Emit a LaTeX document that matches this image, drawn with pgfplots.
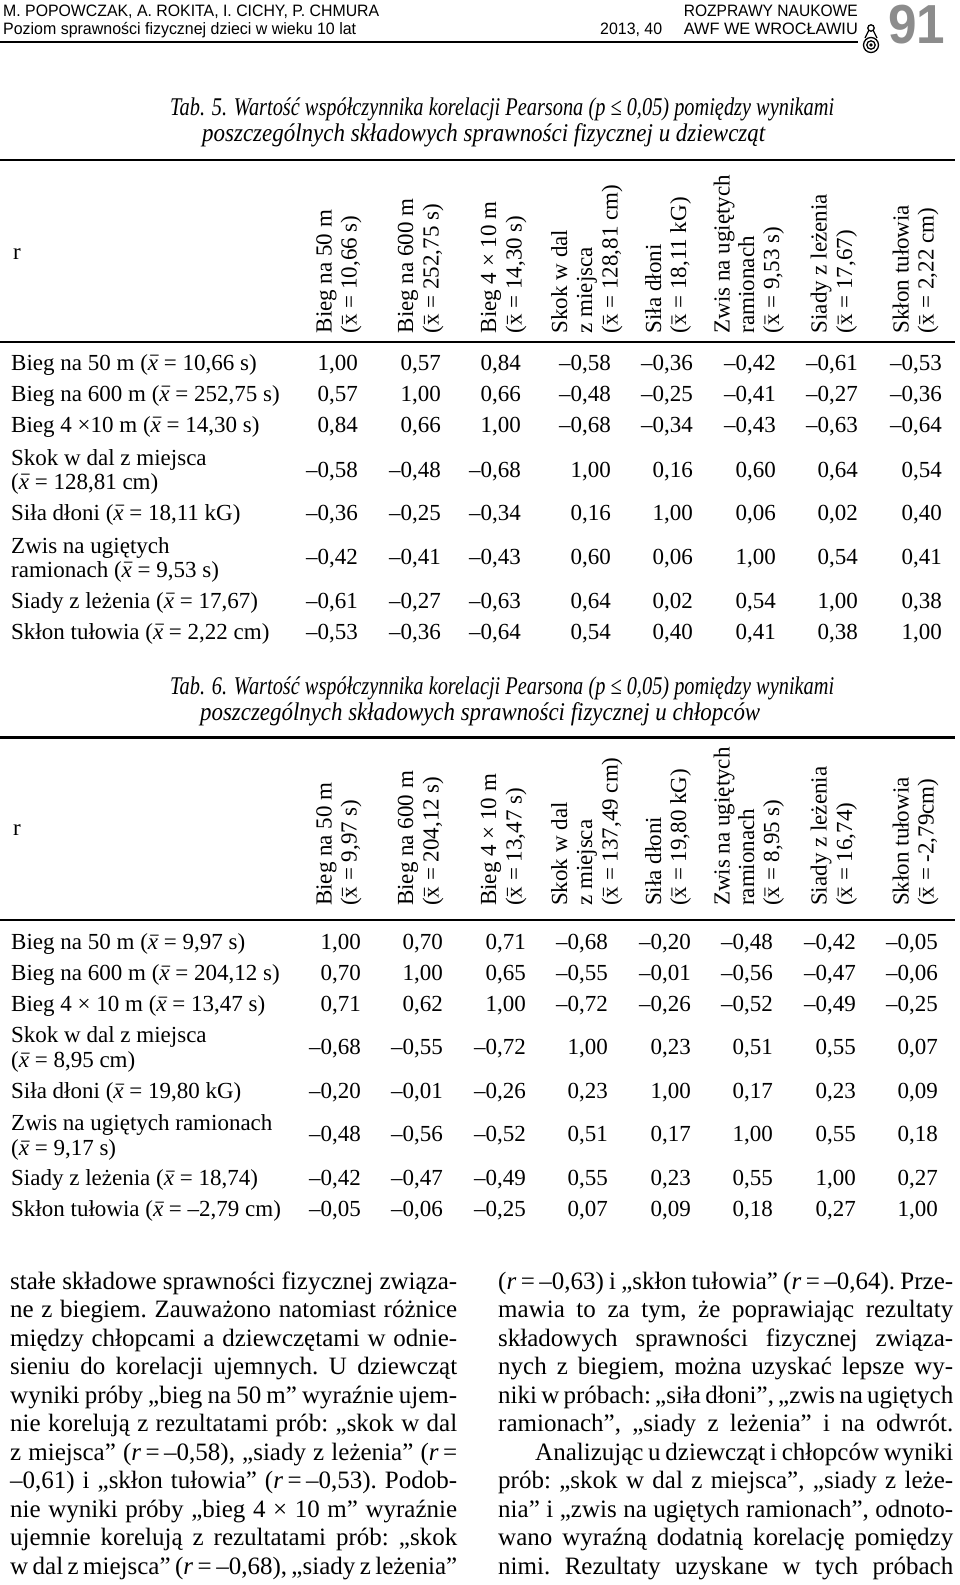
\documentclass[border=0pt]{standalone}
\usepackage{fontspec}
\setmainfont{Liberation Serif}
\newfontfamily\hsans{Liberation Sans}
\usepackage{graphicx}
\usepackage{pgfplots}
\usepackage{pgfplotstable}
\pgfplotsset{compat=1.18}

\definecolor{numgray}{HTML}{8C8C8C}
\newcommand\tabfont{\fontsize{23}{25}\selectfont}
\newcommand\hdfont{\fontsize{23}{25}\selectfont}
\newcommand\bodyfont{\fontsize{25}{28}\selectfont\frenchspacing}
\newcommand\capfont{\fontsize{25.5}{26}\selectfont\itshape}
\newcommand\mac{\raisebox{-0.13em}{\scalebox{0.72}[1]{\char"AF}}}
\newcommand\xb{\ooalign{\textit{x}\cr\hidewidth\kern0.14em\mac\hidewidth\cr}}
\newcommand\xu{\ooalign{x\cr\hidewidth\mac\hidewidth\cr}}
\newcommand\eq{\kern0.18em=\kern0.18em}

\newcommand\rl[2]{\node[anchor=base west, inner sep=0pt, font=\tabfont] at (axis cs:11,#1) {#2};}
\newcommand\hd[3]{\node[rotate=90, anchor=base west, inner sep=0pt, font=\hdfont] at (axis cs:#1,#2) {#3};}
\newcommand\cp[4]{\node[anchor=base west, inner sep=0pt, font=\capfont] at (axis cs:#1,#2) {\resizebox{#3pt}{\height}{#4}};}
\newcommand\jl[4]{\node[anchor=base west, inner sep=0pt, font=\bodyfont] at (axis cs:#1,#2) {\makebox[#3pt][s]{#4}};}

% Tab. 5 (girls): baseline y, then correlation values
\pgfplotstableread{
y c1 c2 c3 c4 c5 c6 c7 c8
370 1.00 0.57 0.84 -0.58 -0.36 -0.42 -0.61 -0.53
401 0.57 1.00 0.66 -0.48 -0.25 -0.41 -0.27 -0.36
432 0.84 0.66 1.00 -0.68 -0.34 -0.43 -0.63 -0.64
477 -0.58 -0.48 -0.68 1.00 0.16 0.60 0.64 0.54
520 -0.36 -0.25 -0.34 0.16 1.00 0.06 0.02 0.40
564 -0.42 -0.41 -0.43 0.60 0.06 1.00 0.54 0.41
608 -0.61 -0.27 -0.63 0.64 0.02 0.54 1.00 0.38
639 -0.53 -0.36 -0.64 0.54 0.40 0.41 0.38 1.00
}\tabfive

% Tab. 6 (boys)
\pgfplotstableread{
y c1 c2 c3 c4 c5 c6 c7 c8
949 1.00 0.70 0.71 -0.68 -0.20 -0.48 -0.42 -0.05
980 0.70 1.00 0.65 -0.55 -0.01 -0.56 -0.47 -0.06
1011 0.71 0.62 1.00 -0.72 -0.26 -0.52 -0.49 -0.25
1054 -0.68 -0.55 -0.72 1.00 0.23 0.51 0.55 0.07
1098 -0.20 -0.01 -0.26 0.23 1.00 0.17 0.23 0.09
1141 -0.48 -0.56 -0.52 0.51 0.17 1.00 0.55 0.18
1185 -0.42 -0.47 -0.49 0.55 0.23 0.55 1.00 0.27
1216 -0.05 -0.06 -0.25 0.07 0.09 0.18 0.27 1.00
}\tabsix

\pgfplotsset{cell/.style={draw=none, mark=none, point meta=y,
  visualization depends on={abs(\thisrow{#1}) \as \cabs},
  visualization depends on={(\thisrow{#1}<0) \as \cneg},
  nodes near coords={\ifdim0\cneg pt>0.5pt\textendash\fi\pgfmathprintnumber[fixed,fixed zerofill,precision=2,use comma,assume math mode=true]{0\cabs}},
  every node near coord/.append style={anchor=base east, inner sep=0pt, font=\tabfont}}}

\begin{document}
\begin{tikzpicture}
\useasboundingbox (0,0) rectangle (960pt,1585pt);
\begin{axis}[at={(0,0)}, anchor=south west, width=960pt, height=1585pt,
  scale only axis, xmin=0, xmax=960, ymin=0, ymax=1585, y dir=reverse,
  hide axis, clip=false]

% ---------- page header ----------
\node[anchor=base west, inner sep=0pt, font=\hsans\fontsize{16.5}{18}\selectfont] at (axis cs:3,16) {\resizebox{376pt}{\height}{M. POPOWCZAK, A. ROKITA, I. CICHY, P. CHMURA}};
\node[anchor=base west, inner sep=0pt, font=\hsans\fontsize{16.5}{18}\selectfont] at (axis cs:3,34) {\resizebox{353pt}{\height}{Poziom sprawności fizycznej dzieci w wieku 10 lat}};
\node[anchor=base west, inner sep=0pt, font=\hsans\fontsize{16.5}{18}\selectfont] at (axis cs:600,34) {\resizebox{62pt}{\height}{2013, 40}};
\node[anchor=base east, inner sep=0pt, font=\hsans\fontsize{16.5}{18}\selectfont] at (axis cs:858,16) {\resizebox{174pt}{\height}{ROZPRAWY NAUKOWE}};
\node[anchor=base east, inner sep=0pt, font=\hsans\fontsize{16.5}{18}\selectfont] at (axis cs:858,34) {\resizebox{174pt}{\height}{AWF WE WROCŁAWIU}};
\draw[line width=1.8pt] (axis cs:0,42) -- (axis cs:858,42);
\node[anchor=base west, inner sep=0pt, text=numgray, font=\hsans\bfseries\fontsize{55}{55}\selectfont] at (axis cs:888,43) {\resizebox{57pt}{\height}{91}};
% logo
\draw[line width=1.3pt] (axis cs:871,28) circle[radius=3.2pt];
\draw[line width=1.3pt] (axis cs:868.5,31) -- (axis cs:865,38);
\draw[line width=1.3pt] (axis cs:873.5,31) -- (axis cs:877,38);
\draw[line width=1.3pt] (axis cs:871,45) circle[radius=7.5pt];
\draw[line width=1.3pt] (axis cs:871,45) circle[radius=4.2pt];
\fill (axis cs:871,45) circle[radius=1.8pt];

% ---------- Tab. 5 ----------
\cp{170}{115}{664}{Tab. 5. Wartość współczynnika korelacji Pearsona (p ≤ 0,05) pomiędzy wynikami}
\cp{202}{141.5}{563}{poszczególnych składowych sprawności fizycznej u dziewcząt}
\draw[line width=2.5pt] (axis cs:0,160) -- (axis cs:955,160);
\node[anchor=base west, inner sep=0pt, font=\tabfont] at (axis cs:13,259) {r};
\hd{331.5}{333.5}{Bieg na 50 m}
\hd{356.5}{333.5}{(\xu{} = 10,66 s)}
\hd{413}{333.5}{Bieg na 600 m}
\hd{438.5}{333.5}{(\xu{} = 252,75 s)}
\hd{496}{333.5}{Bieg 4 × 10 m}
\hd{521.5}{333.5}{(\xu{} = 14,30 s)}
\hd{567}{333.5}{Skok w dal}
\hd{592}{333.5}{z miejsca}
\hd{617.5}{333.5}{(\xu{} = 128,81 cm)}
\hd{661}{333.5}{Siła dłoni}
\hd{686}{333.5}{(\xu{} = 18,11 kG)}
\hd{729.5}{333.5}{Zwis na ugiętych}
\hd{754}{333.5}{ramionach}
\hd{779}{333.5}{(\xu{} = 9,53 s)}
\hd{826.5}{333.5}{Siady z leżenia}
\hd{852}{333.5}{(\xu{} = 17,67)}
\hd{908.5}{333.5}{Skłon tułowia}
\hd{933.5}{333.5}{(\xu{} = 2,22 cm)}
\draw[line width=2pt] (axis cs:0,341.5) -- (axis cs:955,341.5);
\rl{370}{Bieg na 50 m (\xb{} = 10,66 s)}
\rl{401}{Bieg na 600 m (\xb{} = 252,75 s)}
\rl{432}{Bieg 4 ×10 m (\xb{} = 14,30 s)}
\rl{465}{Skok w dal z miejsca}
\rl{489}{(\xb{} = 128,81 cm)}
\rl{520}{Siła dłoni (\xb{} = 18,11 kG)}
\rl{553}{Zwis na ugiętych}
\rl{577}{ramionach (\xb{} = 9,53 s)}
\rl{608}{Siady z leżenia (\xb{} = 17,67)}
\rl{639}{Skłon tułowia (\xb{} = 2,22 cm)}
\addplot[cell=c1] table[x expr=358, y=y] {\tabfive};
\addplot[cell=c2] table[x expr=441, y=y] {\tabfive};
\addplot[cell=c3] table[x expr=521, y=y] {\tabfive};
\addplot[cell=c4] table[x expr=611, y=y] {\tabfive};
\addplot[cell=c5] table[x expr=693, y=y] {\tabfive};
\addplot[cell=c6] table[x expr=776, y=y] {\tabfive};
\addplot[cell=c7] table[x expr=858, y=y] {\tabfive};
\addplot[cell=c8] table[x expr=942, y=y] {\tabfive};

% ---------- Tab. 6 ----------
\cp{170}{694}{664}{Tab. 6. Wartość współczynnika korelacji Pearsona (p ≤ 0,05) pomiędzy wynikami}
\cp{200}{720.5}{560}{poszczególnych składowych sprawności fizycznej u chłopców}
\draw[line width=2.5pt] (axis cs:0,737.7) -- (axis cs:955,737.7);
\node[anchor=base west, inner sep=0pt, font=\tabfont] at (axis cs:13,835) {r};
\hd{331.5}{906}{Bieg na 50 m}
\hd{356.5}{906}{(\xu{} = 9,97 s)}
\hd{413}{906}{Bieg na 600 m}
\hd{438.5}{906}{(\xu{} = 204,12 s)}
\hd{496}{906}{Bieg 4 × 10 m}
\hd{521.5}{906}{(\xu{} = 13,47 s)}
\hd{567}{906}{Skok w dal}
\hd{592}{906}{z miejsca}
\hd{617.5}{906}{(\xu{} = 137,49 cm)}
\hd{661}{906}{Siła dłoni}
\hd{686}{906}{(\xu{} = 19,80 kG)}
\hd{729.5}{906}{Zwis na ugiętych}
\hd{754}{906}{ramionach}
\hd{779}{906}{(\xu{} = 8,95 s)}
\hd{826.5}{906}{Siady z leżenia}
\hd{852}{906}{(\xu{} = 16,74)}
\hd{908.5}{906}{Skłon tułowia}
\hd{933.5}{906}{(\xu{} = -2,79cm)}
\draw[line width=2pt] (axis cs:0,919.5) -- (axis cs:955,919.5);
\rl{949}{Bieg na 50 m (\xb{} = 9,97 s)}
\rl{980}{Bieg na 600 m (\xb{} = 204,12 s)}
\rl{1011}{Bieg 4 × 10 m (\xb{} = 13,47 s)}
\rl{1042}{Skok w dal z miejsca}
\rl{1067}{(\xb{} = 8,95 cm)}
\rl{1098}{Siła dłoni (\xb{} = 19,80 kG)}
\rl{1130}{Zwis na ugiętych ramionach}
\rl{1155}{(\xb{} = 9,17 s)}
\rl{1185}{Siady z leżenia (\xb{} = 18,74)}
\rl{1216}{Skłon tułowia (\xb{} = –2,79 cm)}
\addplot[cell=c1] table[x expr=361, y=y] {\tabsix};
\addplot[cell=c2] table[x expr=443, y=y] {\tabsix};
\addplot[cell=c3] table[x expr=526, y=y] {\tabsix};
\addplot[cell=c4] table[x expr=608, y=y] {\tabsix};
\addplot[cell=c5] table[x expr=691, y=y] {\tabsix};
\addplot[cell=c6] table[x expr=773, y=y] {\tabsix};
\addplot[cell=c7] table[x expr=856, y=y] {\tabsix};
\addplot[cell=c8] table[x expr=938, y=y] {\tabsix};

% ---------- body text ----------
\jl{10}{1289}{447}{stałe składowe sprawności fizycznej związa-}
\jl{10}{1317.5}{447}{ne z biegiem. Zauważono natomiast różnice}
\jl{10}{1346}{447}{między chłopcami a dziewczętami w odnie-}
\jl{10}{1374.5}{447}{sieniu do korelacji ujemnych. U dziewcząt}
\jl{10}{1403}{447}{wyniki próby „bieg na 50 m” wyraźnie ujem-}
\jl{10}{1431.5}{447}{nie korelują z rezultatami prób: „skok w dal}
\jl{10}{1460}{447}{z miejsca” (\textit{r}\eq–0,58), „siady z leżenia” (\textit{r}\kern0.18em=}
\jl{10}{1488.5}{447}{–0,61) i „skłon tułowia” (\textit{r}\eq–0,53). Podob-}
\jl{10}{1517}{447}{nie wyniki próby „bieg 4 × 10 m” wyraźnie}
\jl{10}{1545.5}{447}{ujemnie korelują z rezultatami prób: „skok}
\jl{10}{1574}{447}{w dal z miejsca” (\textit{r}\eq–0,68), „siady z leżenia”}

\jl{498}{1289}{455}{(\textit{r}\eq–0,63) i „skłon tułowia” (\textit{r}\eq–0,64). Prze-}
\jl{498}{1317.5}{455}{mawia to za tym, że poprawiając rezultaty}
\jl{498}{1346}{455}{składowych sprawności fizycznej związa-}
\jl{498}{1374.5}{455}{nych z biegiem, można uzyskać lepsze wy-}
\jl{498}{1403}{455}{niki w próbach: „siła dłoni”, „zwis na ugiętych}
\jl{498}{1431.5}{455}{ramionach”, „siady z leżenia” i na odwrót.}
\jl{535}{1460}{418}{Analizując u dziewcząt i chłopców wyniki}
\jl{498}{1488.5}{455}{prób: „skok w dal z miejsca”, „siady z leże-}
\jl{498}{1517}{455}{nia” i „zwis na ugiętych ramionach”, odnoto-}
\jl{498}{1545.5}{455}{wano wyraźną dodatnią korelację pomiędzy}
\jl{498}{1574}{455}{nimi. Rezultaty uzyskane w tych próbach}

\end{axis}
\end{tikzpicture}
\end{document}
